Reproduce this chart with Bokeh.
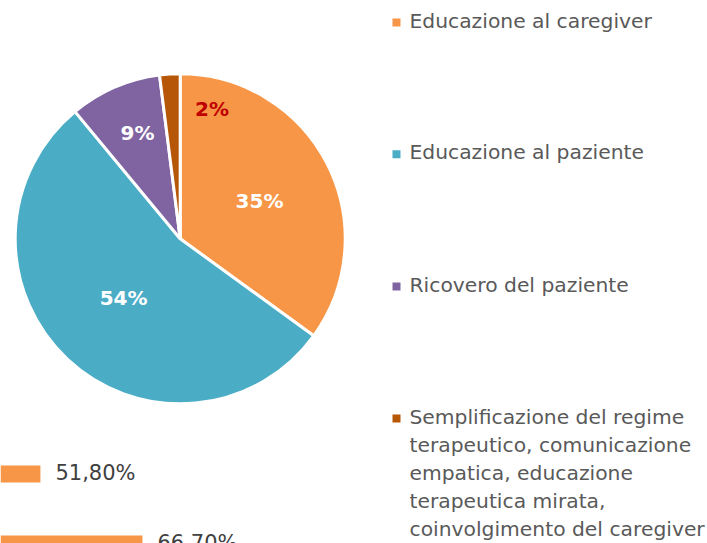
import math
from bokeh.plotting import figure
from bokeh.models import ColumnDataSource, Range1d
from bokeh.core.properties import value
from bokeh.embed import file_html
from bokeh.resources import INLINE

# ---------------- data ----------------
categories = [
    "Educazione al caregiver",
    "Educazione al paziente",
    "Ricovero del paziente",
    "Semplificazione del regime\nterapeutico, comunicazione\nempatica, educazione\nterapeutica mirata,\ncoinvolgimento del caregiver",
]
shares = [35, 54, 9, 2]
share_labels = ["35%", "54%", "9%", "2%"]
slice_colors = ["#F79646", "#4BACC6", "#8064A2", "#B65708"]
label_colors = ["white", "white", "white", "#C00000"]

bar_values = [51.8, 66.7]
bar_labels = ["51,80%", "66,70%"]

# ---------------- layout / style ----------------
W, H = 707, 543
FONT = "DejaVu Sans"
TEXT_GREY = "#595959"

# data coordinates: x = page px, y = 543 - page px
p = figure(width=W, height=H, output_backend="svg", toolbar_location=None,
           x_range=Range1d(0, W), y_range=Range1d(543 - H, 543),
           x_axis_type=None, y_axis_type=None, min_border=0,
           outline_line_color=None, background_fill_color="white",
           border_fill_color="white")

# ---- pie ----
cx, cy, R = 179.7, 304.7, 165
total = float(sum(shares))
starts, ends, mids = [], [], []
acc = 0.0
for s in shares:
    a0 = math.pi / 2 - 2 * math.pi * acc / total
    acc += s
    a1 = math.pi / 2 - 2 * math.pi * acc / total
    starts.append(a0)
    ends.append(a1)
    mids.append((a0 + a1) / 2)

pie_src = ColumnDataSource(dict(start=starts, end=ends, color=slice_colors))
p.wedge(x=cx, y=cy, radius=R, start_angle="start", end_angle="end",
        direction="clock", fill_color="color", line_color="white",
        line_width=3, source=pie_src)

# label placement (radius fraction, angular shift in degrees, clockwise)
label_rad = [0.536, 0.50, 0.70, 0.82]
label_shift = [1.8, 0.6, 1.5, 17.3]
lx, ly = [], []
for m, rf, sh in zip(mids, label_rad, label_shift):
    a = m - math.radians(sh)
    lx.append(cx + rf * 163.5 * math.cos(a))
    ly.append(cy + rf * 163.5 * math.sin(a))
p.text(x=lx, y=ly, text=share_labels, text_color=label_colors,
       text_align="center", text_baseline="middle",
       text_font=value(FONT), text_font_style="bold", text_font_size="20px")

# ---- legend ----
leg_x_sq, leg_x_txt = 396, 409
leg_centers = [20.0, 151.8, 284.0, 416.0]   # page px (top-down), text middle
line_gap = 28.2
sq_y = [543 - (c + 2.0) for c in leg_centers]
p.scatter(x=[leg_x_sq] * 4, y=sq_y, marker="square", size=8,
          fill_color=slice_colors, line_color=None)
tx, ty, tt = [], [], []
for c, cat in zip(leg_centers, categories):
    for k, line in enumerate(cat.split("\n")):
        tx.append(leg_x_txt)
        ty.append(543 - (c + k * line_gap))
        tt.append(line)
p.text(x=tx, y=ty, text=tt, text_color=TEXT_GREY, text_align="left",
       text_baseline="middle", text_font=value(FONT), text_font_size="20.3px")

# ---- partial bar chart (bottom-left) ----
p.extra_x_ranges = {"bx": Range1d(45.97, 149.24)}
p.extra_y_ranges = {"by": Range1d(start=0.9929, end=-6.764)}
idx = list(range(len(bar_values)))
p.hbar(y=idx, height=17 / 70, left=0, right=bar_values, fill_color="#F79646",
       line_color=None, x_range_name="bx", y_range_name="by")
p.text(x=bar_values, y=idx, text=bar_labels, x_offset=15, y_offset=-1,
       text_align="left", text_baseline="middle", text_color="#404040",
       text_font=value(FONT), text_font_size="21px",
       x_range_name="bx", y_range_name="by")

open("out.html", "w").write(file_html(p, INLINE))
